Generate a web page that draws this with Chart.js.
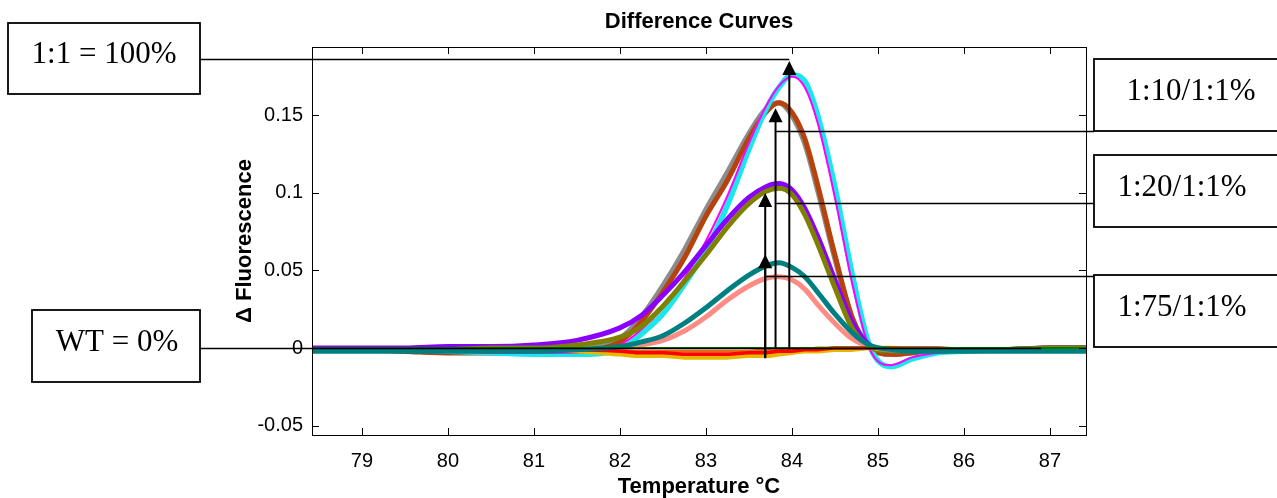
<!DOCTYPE html>
<html>
<head>
<meta charset="utf-8">
<script src="https://cdn.jsdelivr.net/npm/chart.js@4.4.1/dist/chart.umd.min.js"></script>
<style>
  body { margin: 0; background: #fff; }
  canvas { display: block; }
</style>
</head>
<body>
<canvas id="curves" width="1277" height="498"></canvas>
<script>
// temperatures (°C) shared by every curve
const TEMPS = [78.42, 79, 79.5, 80, 80.5, 81, 81.5, 82, 82.25, 82.5, 82.75, 83, 83.25, 83.5, 83.7, 83.85, 84, 84.15, 84.3, 84.5, 84.7, 84.9, 85.15, 85.4, 85.7, 86, 86.5, 87, 87.42];

// delta fluorescence
const cyan    = [-0.001, -0.001, -0.001, -0.002, -0.003, -0.004, -0.004, -0.001, 0.009, 0.022, 0.041, 0.063, 0.092, 0.128, 0.154, 0.168, 0.176, 0.172, 0.150, 0.104, 0.048, 0.002, -0.012, -0.007, -0.003, -0.002, -0.001, -0.001, -0.001];
const magenta = [-0.001, -0.001, -0.002, -0.002, -0.003, -0.003, -0.003, 0.002, 0.012, 0.026, 0.045, 0.069, 0.098, 0.132, 0.156, 0.169, 0.175, 0.168, 0.145, 0.097, 0.042, 0.000, -0.011, -0.006, -0.003, -0.002, -0.001, 0.000, 0.000];
const gray    = [-0.001, -0.001, -0.002, -0.003, -0.003, -0.003, -0.001, 0.006, 0.020, 0.040, 0.063, 0.089, 0.113, 0.138, 0.154, 0.158, 0.150, 0.132, 0.102, 0.058, 0.019, 0.001, -0.004, -0.003, -0.002, -0.001, -0.001, 0.000, 0.000];
const brown   = [-0.001, -0.001, -0.002, -0.003, -0.003, -0.003, -0.002, 0.004, 0.017, 0.036, 0.058, 0.085, 0.108, 0.135, 0.152, 0.158, 0.152, 0.135, 0.105, 0.060, 0.020, 0.001, -0.004, -0.003, -0.002, -0.001, -0.001, 0.000, 0.000];
const purple  = [0.000, 0.000, 0.000, 0.001, 0.001, 0.002, 0.005, 0.013, 0.021, 0.034, 0.049, 0.066, 0.083, 0.097, 0.104, 0.106, 0.102, 0.090, 0.072, 0.044, 0.017, 0.002, -0.002, -0.002, -0.001, -0.001, -0.001, 0.000, 0.000];
const olive   = [-0.001, -0.001, -0.001, -0.001, 0.000, 0.000, 0.002, 0.007, 0.014, 0.027, 0.043, 0.060, 0.078, 0.093, 0.101, 0.103, 0.099, 0.086, 0.067, 0.039, 0.013, 0.001, -0.002, -0.002, -0.001, -0.001, -0.001, 0.000, 0.000];
const teal    = [-0.002, -0.002, -0.002, -0.002, -0.002, -0.002, -0.001, 0.001, 0.004, 0.008, 0.016, 0.026, 0.037, 0.047, 0.053, 0.055, 0.052, 0.046, 0.036, 0.022, 0.010, 0.002, -0.001, -0.002, -0.002, -0.002, -0.002, -0.002, -0.002];
const salmon  = [-0.001, -0.001, -0.001, -0.001, -0.001, -0.001, -0.001, 0.000, 0.002, 0.005, 0.011, 0.020, 0.031, 0.040, 0.045, 0.046, 0.044, 0.038, 0.028, 0.016, 0.006, 0.001, -0.001, -0.001, -0.001, -0.001, -0.001, -0.001, -0.001];
const red     = [-0.001, -0.001, -0.001, -0.001, -0.001, -0.001, -0.001, -0.002, -0.003, -0.003, -0.004, -0.004, -0.004, -0.003, -0.003, -0.002, -0.002, -0.001, -0.001, 0.000, 0.000, 0.000, 0.000, 0.000, 0.000, -0.001, -0.001, -0.001, -0.001];
const gold    = [-0.001, -0.001, -0.001, -0.001, -0.001, -0.001, -0.002, -0.004, -0.005, -0.005, -0.006, -0.006, -0.006, -0.005, -0.005, -0.004, -0.003, -0.002, -0.002, -0.001, -0.001, 0.000, 0.000, -0.001, -0.001, -0.001, -0.001, -0.001, -0.001];
const orange  = [-0.001, -0.001, -0.001, -0.002, -0.002, -0.002, -0.002, -0.002, -0.002, -0.002, -0.002, -0.002, -0.002, -0.002, -0.001, -0.001, -0.001, -0.001, 0.000, 0.000, 0.000, 0.000, -0.001, -0.001, -0.001, -0.001, -0.001, -0.001, -0.001];
const green   = [0.000, 0.000, 0.000, 0.000, 0.000, 0.000, 0.000, 0.000, 0.000, 0.000, 0.000, 0.000, 0.000, 0.000, 0.000, 0.000, 0.000, 0.000, 0.000, 0.000, 0.000, 0.000, 0.000, 0.000, 0.000, 0.000, 0.000, 0.000, 0.000];

// drawing order: first in list ends up underneath
const SERIES = [gray, brown, cyan, magenta, purple, olive, salmon, orange, gold, red, teal, green];
const STYLES = [
  { color: '#8c8c8c', width: 5.5 },
  { color: '#b8420c', width: 5 },
  { color: '#1ae6ee', width: 5.5 },
  { color: '#ff00ff', width: 2 },
  { color: '#8a00ff', width: 5 },
  { color: '#808000', width: 5 },
  { color: '#ff8c84', width: 5 },
  { color: '#e86a10', width: 3 },
  { color: '#e8b800', width: 4.5 },
  { color: '#ff0000', width: 3.5 },
  { color: '#007f80', width: 5 },
  { color: '#007a00', width: 2 }
];

const X_MIN = 78.42, X_MAX = 87.42;
const Y_MIN = -0.056, Y_MAX = 0.194;
const X_TICKS = [79, 80, 81, 82, 83, 84, 85, 86, 87];
const Y_TICKS = [-0.05, 0, 0.05, 0.1, 0.15];

// annotation text and where the arrows point (temperature, fluorescence)
const TITLE = 'Difference Curves';
const LEFT_LABELS = ['1:1 = 100%', 'WT = 0%'];
const RIGHT_LABELS = ['1:10/1:1%', '1:20/1:1%', '1:75/1:1%'];
const ARROW_T    = [83.97, 83.81, 83.69, 83.69];
const ARROW_TIP  = [0.185, 0.1545, 0.100, 0.0605];
const ARROW_FOOT = [0, 0, -0.0065, -0.0065];
const LEFT_LINK_Y  = [0.186, 0];
const LEFT_LINK_T  = [83.97, 86.9];
const RIGHT_LINK_Y = [0.1397, 0.0934, 0.0464];
const RIGHT_LINK_T = [83.81, 83.81, 83.69];

const tickFont = { family: 'Liberation Sans', size: 20 };
const labelFont = { family: 'Liberation Sans', size: 22, weight: 'bold', lineHeight: 1 };

const datasets = SERIES.map((vals, i) => ({
  data: TEMPS.map((t, j) => ({ x: t, y: vals[j] })),
  borderColor: STYLES[i].color,
  borderWidth: STYLES[i].width,
  order: SERIES.length - i
}));

// box with inward ticks on all four sides, MATLAB style
const frame = {
  id: 'frame',
  afterDatasetsDraw(chart) {
    const { ctx, chartArea: a, scales: { x, y } } = chart;
    ctx.save();
    ctx.strokeStyle = '#000';
    ctx.lineWidth = 1;
    ctx.strokeRect(a.left + 0.5, a.top + 0.5, a.width, a.height);
    ctx.beginPath();
    X_TICKS.forEach(v => {
      const px = Math.round(x.getPixelForValue(v)) + 0.5;
      ctx.moveTo(px, a.bottom); ctx.lineTo(px, a.bottom - 7);
      ctx.moveTo(px, a.top); ctx.lineTo(px, a.top + 7);
    });
    Y_TICKS.forEach(v => {
      const py = Math.round(y.getPixelForValue(v)) + 0.5;
      ctx.moveTo(a.left, py); ctx.lineTo(a.left + 7, py);
      ctx.moveTo(a.right, py); ctx.lineTo(a.right - 7, py);
    });
    ctx.stroke();
    // title centred over the plot box
    ctx.fillStyle = '#000';
    ctx.font = 'bold 22px "Liberation Sans"';
    ctx.textAlign = 'center';
    ctx.textBaseline = 'middle';
    ctx.fillText(TITLE, (a.left + a.right) / 2, 22);
    ctx.restore();
  }
};

const notes = {
  id: 'notes',
  afterDraw(chart) {
    const { ctx, scales: { x, y } } = chart;
    ctx.save();
    ctx.strokeStyle = '#000';
    ctx.fillStyle = '#000';

    // arrows
    ctx.lineWidth = 2;
    ARROW_T.forEach((t, i) => {
      const px = x.getPixelForValue(t);
      const tip = y.getPixelForValue(ARROW_TIP[i]);
      ctx.beginPath();
      ctx.moveTo(px, y.getPixelForValue(ARROW_FOOT[i]));
      ctx.lineTo(px, tip + 10);
      ctx.stroke();
      ctx.beginPath();
      ctx.moveTo(px, tip);
      ctx.lineTo(px - 7, tip + 14);
      ctx.lineTo(px + 7, tip + 14);
      ctx.closePath();
      ctx.fill();
    });

    // connectors
    ctx.lineWidth = 1.5;
    const leftBoxes = [[8, 23, 192, 71], [32, 310, 168, 72]];
    const rightBoxes = [[1094, 59, 200, 72], [1094, 155, 200, 72], [1094, 275, 200, 72]];
    ctx.beginPath();
    LEFT_LINK_Y.forEach((v, i) => {
      const py = Math.round(y.getPixelForValue(v)) + 0.5;
      ctx.moveTo(200, py);
      ctx.lineTo(x.getPixelForValue(LEFT_LINK_T[i]), py);
    });
    RIGHT_LINK_Y.forEach((v, i) => {
      const py = Math.round(y.getPixelForValue(v)) + 0.5;
      ctx.moveTo(x.getPixelForValue(RIGHT_LINK_T[i]), py);
      ctx.lineTo(1094, py);
    });
    ctx.stroke();

    // boxes and their text
    ctx.font = '31px "Liberation Serif"';
    ctx.textAlign = 'center';
    ctx.textBaseline = 'alphabetic';
    ctx.lineWidth = 1.8;
    const leftText = [[104, 63], [117, 351]];
    leftBoxes.forEach((b, i) => {
      ctx.fillStyle = '#fff';
      ctx.fillRect(b[0], b[1], b[2], b[3]);
      ctx.strokeRect(b[0], b[1], b[2], b[3]);
      ctx.fillStyle = '#000';
      ctx.fillText(LEFT_LABELS[i], leftText[i][0], leftText[i][1]);
    });
    const rightText = [[1191, 100], [1182, 196], [1182, 316]];
    rightBoxes.forEach((b, i) => {
      ctx.fillStyle = '#fff';
      ctx.fillRect(b[0], b[1], b[2], b[3]);
      ctx.strokeRect(b[0], b[1], b[2], b[3]);
      ctx.fillStyle = '#000';
      ctx.fillText(RIGHT_LABELS[i], rightText[i][0], rightText[i][1]);
    });
    ctx.restore();
  }
};

new Chart(document.getElementById('curves').getContext('2d'), {
  type: 'line',
  data: { datasets },
  options: {
    responsive: false,
    animation: false,
    layout: { padding: { left: 226, right: 191, top: 47, bottom: 0 } },
    elements: {
      point: { radius: 0 },
      line: { cubicInterpolationMode: 'monotone', borderCapStyle: 'round', borderJoinStyle: 'round' }
    },
    plugins: {
      legend: { display: false },
      tooltip: { enabled: false },
      title: { display: false }
    },
    scales: {
      x: {
        type: 'linear',
        min: X_MIN,
        max: X_MAX,
        afterBuildTicks: s => { s.ticks = X_TICKS.map(v => ({ value: v })); },
        afterFit: s => { s.height = 63; },
        grid: { display: false, drawTicks: false },
        border: { display: false },
        ticks: { color: '#000', font: tickFont, padding: 14, maxRotation: 0 },
        title: { display: true, text: 'Temperature °C', color: '#000', font: labelFont, padding: { top: 0, bottom: 0 } }
      },
      y: {
        min: Y_MIN,
        max: Y_MAX,
        afterBuildTicks: s => { s.ticks = Y_TICKS.map(v => ({ value: v })); },
        afterFit: s => { s.width = 86; },
        grid: { display: false, drawTicks: false },
        border: { display: false },
        ticks: { color: '#000', font: tickFont, padding: 9, callback: v => String(v) },
        title: { display: true, text: 'Δ Fluorescence', color: '#000', font: labelFont, padding: { top: 8, bottom: 0 } }
      }
    }
  },
  plugins: [frame, notes]
});
</script>
</body>
</html>
